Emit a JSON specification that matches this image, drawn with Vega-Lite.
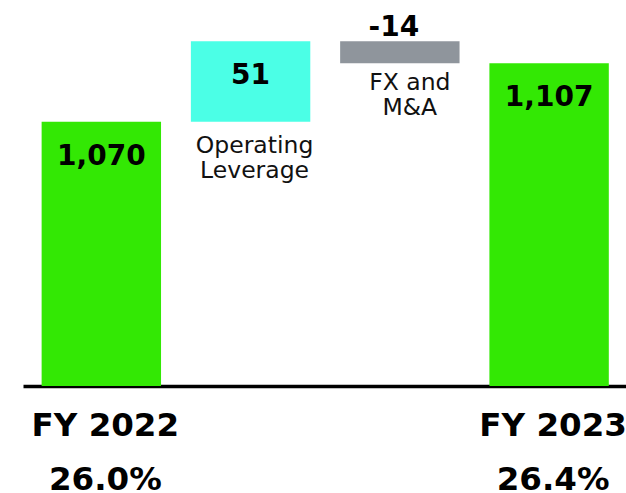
{
  "$schema": "https://vega.github.io/schema/vega-lite/v6.json",
  "width": 603,
  "height": 386,
  "autosize": {"type": "none"},
  "padding": {"left": 23, "top": 0, "right": 0, "bottom": 107},
  "config": {"view": {"stroke": null}, "font": "DejaVu Sans"},
  "data": {
    "values": [
      {"step": "FY 2022\n26.0%", "kind": "total", "start": 0, "end": 1070, "label": "1,070"},
      {"step": "Operating\nLeverage", "kind": "up", "start": 1070, "end": 1121, "label": "51"},
      {"step": "FX and\nM&A", "kind": "down", "start": 1121, "end": 1107, "label": "-14"},
      {"step": "FY 2023\n26.4%", "kind": "total", "start": 0, "end": 1107, "label": "1,107"}
    ]
  },
  "encoding": {
    "x": {
      "field": "step",
      "type": "nominal",
      "sort": null,
      "scale": {"paddingInner": 0.2, "paddingOuter": 0.12, "align": 0.52},
      "axis": {
        "title": null,
        "ticks": false,
        "tickSize": 0,
        "domainColor": "#000000",
        "domainWidth": 3.5,
        "labelAngle": 0,
        "labelPadding": 23,
        "labelOffset": 4,
        "labelFont": "DejaVu Sans",
        "labelFontWeight": "bold",
        "labelFontSize": 32.5,
        "labelColor": "#000000",
        "labelLineHeight": 54,
        "labelBaseline": "top",
        "labelExpr": "indexof(datum.value, 'FY') == 0 ? split(datum.value, '\\n') : ''"
      }
    }
  },
  "layer": [
    {
      "mark": {"type": "bar", "clip": true},
      "encoding": {
        "y": {
          "field": "start",
          "type": "quantitative",
          "scale": {"domain": [902.5, 1147.1], "zero": false, "nice": false},
          "axis": null
        },
        "y2": {"field": "end"},
        "color": {
          "field": "kind",
          "type": "nominal",
          "scale": {"domain": ["total", "up", "down"], "range": ["#33E804", "#4BFFE6", "#8F959C"]},
          "legend": null
        }
      }
    },
    {
      "transform": [{"filter": "datum.end >= datum.start"}],
      "mark": {"type": "text", "fontSize": 28, "fontWeight": "bold", "color": "#000000", "baseline": "middle", "dy": 35},
      "encoding": {
        "y": {"field": "end", "type": "quantitative"},
        "text": {"field": "label"}
      }
    },
    {
      "transform": [{"filter": "datum.end < datum.start"}],
      "mark": {"type": "text", "fontSize": 28, "fontWeight": "bold", "color": "#000000", "baseline": "alphabetic", "dy": -5, "dx": -6},
      "encoding": {
        "y": {"field": "start", "type": "quantitative"},
        "text": {"field": "label"}
      }
    },
    {
      "transform": [{"filter": "datum.kind == 'up'"}],
      "mark": {"type": "text", "fontSize": 23.5, "color": "#111111", "baseline": "top", "lineBreak": "\n", "lineHeight": 25, "dy": 12, "dx": 4},
      "encoding": {
        "y": {"field": "start", "type": "quantitative"},
        "text": {"field": "step"}
      }
    },
    {
      "transform": [{"filter": "datum.kind == 'down'"}],
      "mark": {"type": "text", "fontSize": 23.5, "color": "#111111", "baseline": "top", "lineBreak": "\n", "lineHeight": 25, "dy": 8, "dx": 10},
      "encoding": {
        "y": {"field": "end", "type": "quantitative"},
        "text": {"field": "step"}
      }
    }
  ]
}
